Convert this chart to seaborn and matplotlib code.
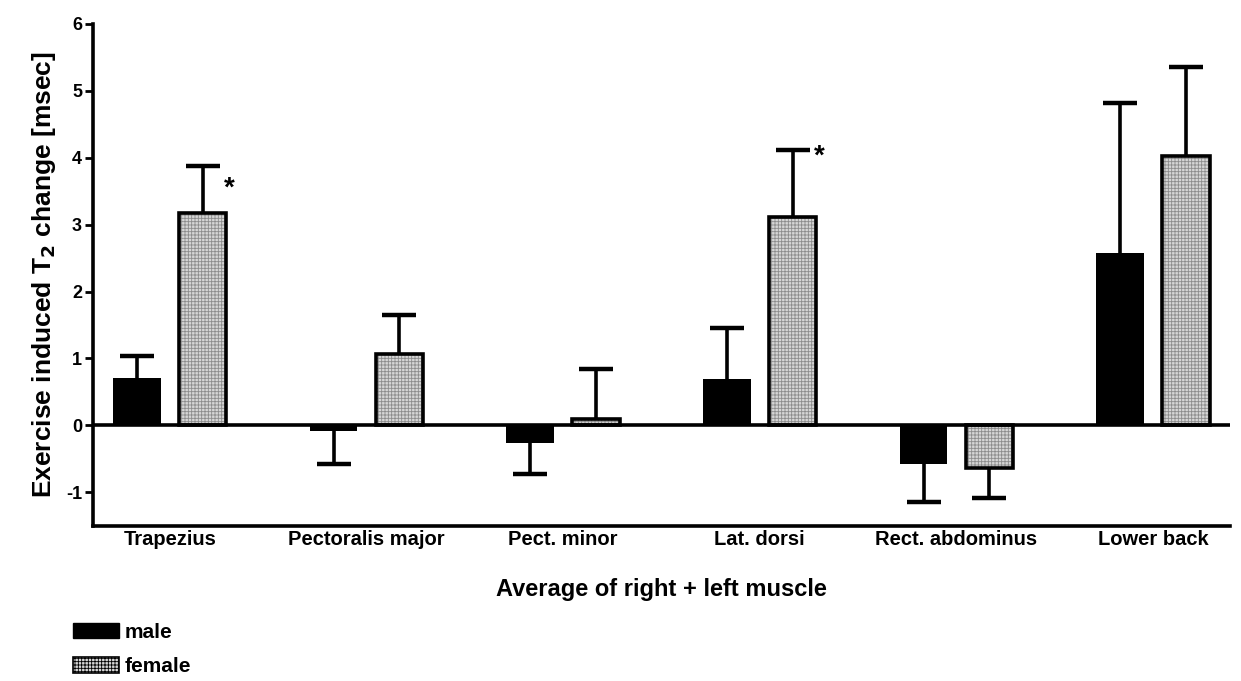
import matplotlib
matplotlib.use("Agg")
import matplotlib.pyplot as plt
from matplotlib.patches import Rectangle
import seaborn as sns
import pandas as pd

muscles = ["Trapezius", "Pectoralis major", "Pect. minor", "Lat. dorsi",
           "Rect. abdominus", "Lower back"]
male_mean = [0.71, -0.09, -0.27, 0.70, -0.58, 2.57]
male_sem = [0.32, 0.49, 0.46, 0.75, 0.56, 2.25]
female_mean = [3.18, 1.07, 0.10, 3.12, -0.64, 4.03]
female_sem = [0.70, 0.58, 0.74, 1.00, 0.45, 1.32]
# significance markers (muscle -> height of the asterisk)
star_level = {"Trapezius": 3.54, "Lat. dorsi": 4.02}

df = pd.DataFrame({
    "muscle": muscles * 2,
    "sex": ["male"] * len(muscles) + ["female"] * len(muscles),
    "mean": male_mean + female_mean,
    "sem": male_sem + female_sem,
})

sns.set_theme(style="ticks")
plt.rcParams["font.family"] = ["Liberation Sans", "DejaVu Sans"]
plt.rcParams["font.weight"] = "bold"
plt.rcParams["axes.labelweight"] = "bold"
plt.rcParams["hatch.linewidth"] = 0.6
for key in ["axes.edgecolor", "axes.labelcolor", "xtick.color", "ytick.color",
            "text.color", "xtick.labelcolor", "ytick.labelcolor"]:
    plt.rcParams[key] = "black"

fig = plt.figure(figsize=(12.41, 6.81), dpi=100)
ax = fig.add_axes([0.075, 0.228, 0.916, 0.737])

FEMALE_FILL = "#d6d6d6"
HATCH_COLOR = "#8c8c8c"
sns.barplot(data=df, x="muscle", y="mean", hue="sex", order=muscles,
            hue_order=["male", "female"],
            palette={"male": "black", "female": FEMALE_FILL},
            errorbar=None, width=0.67, gap=0.28, ax=ax, legend=False,
            linewidth=0, zorder=3)

LW = 2.6
series = {"male": (male_mean, male_sem), "female": (female_mean, female_sem)}
for container, sex in zip(ax.containers, ["male", "female"]):
    means, sems = series[sex]
    for muscle, bar, m, s in zip(muscles, container.patches, means, sems):
        xc = bar.get_x() + bar.get_width() / 2
        if sex == "female":
            bar.set_hatch("+++++")
            bar.set_edgecolor(HATCH_COLOR)
            bar.set_linewidth(0)
            ax.add_patch(Rectangle(bar.get_xy(), bar.get_width(), bar.get_height(),
                                   fill=False, edgecolor="black", linewidth=LW,
                                   zorder=4))
        # one-sided error bar: stem plus a single cap at the far end
        tip = m + s if m >= 0 else m - s
        ax.plot([xc, xc], [m, tip], color="black", linewidth=LW, zorder=2,
                solid_capstyle="butt")
        ax.plot([xc], [tip], marker="_", markersize=25, markeredgewidth=LW + 0.6,
                color="black", zorder=2)
        if sex == "female" and muscle in star_level:
            ax.text(xc + 0.11, star_level[muscle], "*", fontsize=20,
                    fontweight="bold", ha="left", va="center", color="black")

ax.axhline(0, color="black", linewidth=LW, zorder=5)

ax.set_ylim(-1.5, 6)
ax.set_xlim(-0.39, 5.39)
ax.set_yticks([-1, 0, 1, 2, 3, 4, 5, 6])
ax.set_yticklabels(["-1", "0", "1", "2", "3", "4", "5", "6"])
ax.tick_params(axis="y", length=6, width=2, labelsize=13, pad=2)
ax.tick_params(axis="x", length=0, labelsize=14.5, pad=3)
for lab in ax.get_xticklabels() + ax.get_yticklabels():
    lab.set_fontweight("bold")

sns.despine(ax=ax)
for side in ["left", "bottom"]:
    ax.spines[side].set_linewidth(LW)
    ax.spines[side].set_color("black")

ax.set_ylabel("Exercise induced T$_\\mathbf{2}$ change [msec]", fontsize=19,
              fontweight="bold", labelpad=6)
ax.set_xlabel("Average of right + left muscle", fontsize=17, fontweight="bold",
              labelpad=21)

handles = [Rectangle((0, 0), 1, 1, facecolor="black", edgecolor="black"),
           Rectangle((0, 0), 1, 1, facecolor=FEMALE_FILL, edgecolor="black",
                     hatch="+++++", linewidth=1.2)]
fig.legend(handles, ["male", "female"], loc="upper left",
           bbox_to_anchor=(0.052, 0.098), frameon=False,
           prop={"size": 15, "weight": "bold"}, handlelength=2.2,
           handleheight=0.75, handletextpad=0.3, labelspacing=0.75,
           borderaxespad=0)

fig.savefig("out.png", dpi=100)
